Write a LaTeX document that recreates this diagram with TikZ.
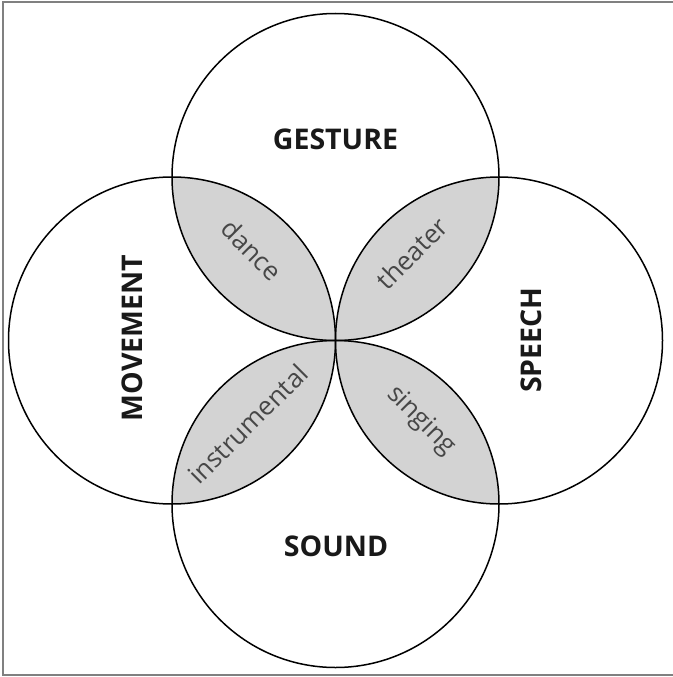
\documentclass[tikz,border=0pt]{standalone}
\usepackage{fontspec}
\setmainfont{Open Sans}
\begin{document}
\begin{tikzpicture}[x=1pt,y=-1pt,
  circ/.style={draw=black,line width=1.5pt},
  big/.style={font=\fontsize{28.5}{33}\selectfont\bfseries,text=black!90},
  small/.style={font=\fontsize{26}{30}\selectfont,text=black!72}]
\definecolor{lensgray}{HTML}{D3D3D3}
\useasboundingbox (0,0) rectangle (672,677);
\draw[draw=black!50,line width=2pt] (3,2) rectangle (678,675);
\coordinate (cT) at (335.5,177);
\coordinate (cB) at (335.5,504);
\coordinate (cL) at (172,340.5);
\coordinate (cR) at (499,340.5);
\def\rr{163.5}
% lenses
\begin{scope}\clip (cT) circle (\rr); \fill[lensgray] (cL) circle (\rr); \fill[lensgray] (cR) circle (\rr);\end{scope}
\begin{scope}\clip (cB) circle (\rr); \fill[lensgray] (cL) circle (\rr); \fill[lensgray] (cR) circle (\rr);\end{scope}
% circles
\draw[circ] (cT) circle (\rr);
\draw[circ] (cB) circle (\rr);
\draw[circ] (cL) circle (\rr);
\draw[circ] (cR) circle (\rr);
% labels
\node[big] (gesture) at (335.5,139) {GESTURE};
\node[big] (sound) at (336,546) {SOUND};
\node[big,rotate=90] (movement) at (132,338) {MOVEMENT};
\node[big,rotate=90] (speech) at (531,340) {SPEECH};
\node[small,rotate=-45] (dance) at (252,250) {dance};
\node[small,rotate=45] (theater) at (412,253) {theater};
\node[small,rotate=45] (instr) at (248,424) {instrumental};
\node[small,rotate=-45] (singing) at (421,421) {singing};
\end{tikzpicture}
\end{document}
